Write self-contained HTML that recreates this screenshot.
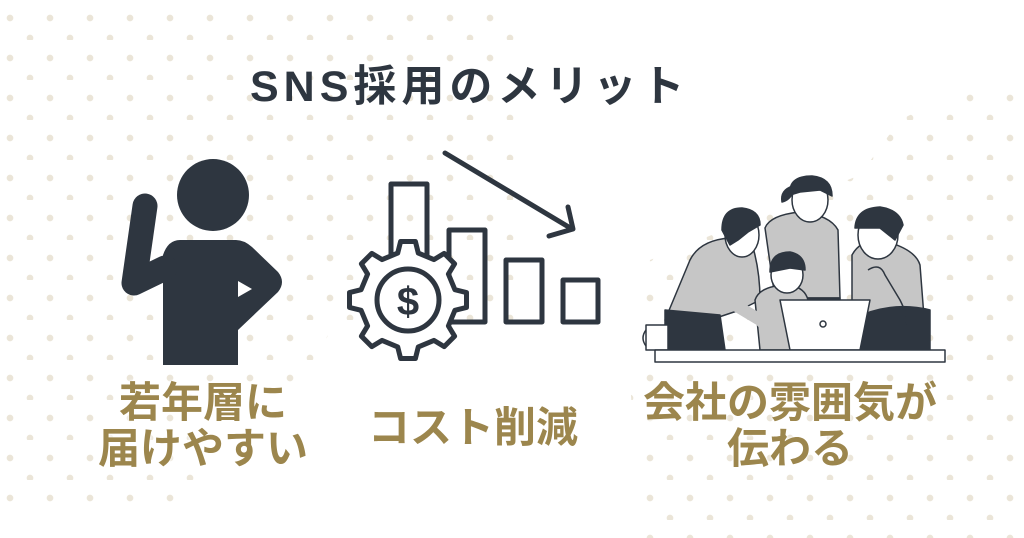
<!DOCTYPE html>
<html><head><meta charset="utf-8"><style>
html,body{margin:0;padding:0;background:#fff;}
#c{position:relative;width:1024px;height:538px;overflow:hidden;background:#fff;}
.dots{position:absolute;left:0;top:0;width:1024px;height:538px;
background-image:radial-gradient(circle at 10px 18px,#ebe5d8 3px,transparent 3.6px),radial-gradient(circle at 30px 38px,#ebe5d8 3px,transparent 3.6px);
background-size:40px 40px;}
.t{position:absolute;font-family:"Liberation Sans","Noto Sans CJK JP",sans-serif;font-weight:bold;white-space:nowrap;}
.g{color:#9c864d;font-size:42px;text-align:center;text-shadow:0 0 3px #fff,0 0 3px #fff;}
</style></head><body><div id="c">
<div class="dots" style="clip-path:polygon(0 0,520px 0,520px 320px,330px 330px,310px 380px,210px 400px,200px 510px,0 510px)"></div>
<div class="dots" style="clip-path:polygon(960px 90px,1024px 80px,1024px 538px,640px 538px,630px 380px,650px 260px,860px 175px,900px 120px)"></div>
<div class="t" style="left:250px;top:52px;font-size:43px;color:#2e3640;letter-spacing:5px;">SNS採用のメリット</div>
<svg width="1024" height="538" style="position:absolute;left:0;top:0">
<g fill="#2e3640">
<circle cx="213" cy="195" r="36"/>
<path d="M163 255 Q168 240 180 240 L236 240 Q244 240 252 247 L278 272 Q286 282 278 292 L238 330 L238 365 L163 365 Z"/>
<polygon points="238,281 252,289 238,297" fill="#fff"/>
</g>
<polyline points="145,206 134,283 165,268" fill="none" stroke="#2e3640" stroke-width="25" stroke-linecap="round" stroke-linejoin="round"/>
<g fill="none" stroke="#2e3640" stroke-width="5" stroke-linejoin="round" stroke-linecap="round">
<rect x="391" y="184" width="36" height="140"/>
<rect x="449" y="230" width="36" height="92"/>
<rect x="506" y="260" width="36" height="62"/>
<rect x="563" y="280" width="35" height="42"/>
<line x1="445" y1="153" x2="572" y2="229"/>
<polyline points="568,207 573,229 549,236"/>
<path id="gear" fill="#fff" d=""/>
<circle cx="408" cy="300" r="31" fill="#fff"/>
</g>
<text x="408" y="315" text-anchor="middle" font-family="Liberation Sans,sans-serif" font-weight="bold" font-size="40" fill="#2e3640">$</text>
<g stroke="#2e3640" stroke-width="1.5" stroke-linejoin="round">
<path d="M765 228 Q770 215 800 212 Q830 215 838 230 L840 298 L775 298 Z" fill="#c6c6c6"/>
<path d="M778 298 L840 298 L842 330 L778 330 Z" fill="#2e3640"/>
<ellipse cx="810" cy="200" rx="18" ry="22" fill="#fff"/>
<path d="M790 195 Q788 176 812 176 Q832 178 832 196 L820 190 L800 192 Z" fill="#2e3640"/>
<path d="M793 186 Q780 190 782 202 Q790 200 793 192Z" fill="#2e3640"/>
<path d="M852 255 Q860 240 880 240 Q915 248 920 265 L925 330 L875 340 L852 330 Z" fill="#c6c6c6"/>
<path d="M850 320 Q890 300 930 310 L930 350 L850 350Z" fill="#2e3640"/>
<ellipse cx="878" cy="235" rx="20" ry="24" fill="#fff"/>
<path d="M855 228 Q856 208 880 207 Q900 210 903 225 L895 240 L880 228 Z" fill="#2e3640"/>
<path d="M690 260 Q700 240 730 238 L752 244 Q760 270 760 300 L740 310 L680 330 L665 320 Z" fill="#c6c6c6"/>
<path d="M665 310 L720 315 L725 350 L665 350 Z" fill="#2e3640"/>
<ellipse cx="742" cy="235" rx="17" ry="22" fill="#fff"/>
<path d="M722 230 Q722 208 742 208 Q760 210 760 225 L748 232 L738 240 L730 245 Z" fill="#2e3640"/>
<path d="M755 300 Q760 285 790 285 Q805 288 808 300 L805 350 L760 350 Z" fill="#c6c6c6"/>
<ellipse cx="787" cy="275" rx="16" ry="18" fill="#fff"/>
<path d="M770 272 Q770 252 790 252 Q805 255 805 270 L790 268 Z" fill="#2e3640"/>
<path d="M710 290 L760 320 L780 340" fill="none" stroke-width="12" stroke="#c6c6c6"/>
<path d="M780 300 L870 300 L860 350 L790 350 Z" fill="#fff"/>
<circle cx="823" cy="324" r="3" fill="#fff"/>
<path d="M868 270 Q880 262 885 275 L900 300 Q910 320 905 325" fill="none"/>
<path d="M646 325 L668 325 L668 350 L646 350 Z" fill="#fff"/>
<path d="M646 330 Q640 338 646 346" fill="none"/>
<rect x="655" y="350" width="290" height="12" fill="#fff"/>
</g>
</svg>
<div class="t g" style="left:80px;top:380px;width:246px;line-height:46px;">若年層に<br>届けやすい</div>
<div class="t g" style="left:360px;top:405px;width:226px;line-height:46px;">コスト削減</div>
<div class="t g" style="left:630px;top:380px;width:320px;line-height:46px;">会社の雰囲気が<br>伝わる</div>
</div>
<script>
(function(){var cx=408,cy=300,n=8,ro=59,ri=48,d="";
for(var i=0;i<n;i++){var a=i*2*Math.PI/n,w=Math.PI/n;
var pts=[[ri,a-w*0.55],[ro,a-w*0.32],[ro,a+w*0.32],[ri,a+w*0.55],[ri,a+w*1.45]];
pts.forEach(function(p,j){var x=cx+p[0]*Math.cos(p[1]),y=cy+p[0]*Math.sin(p[1]);d+=(i==0&&j==0?"M":"L")+x.toFixed(1)+" "+y.toFixed(1)+" ";});}
document.getElementById("gear").setAttribute("d",d+"Z");})();
</script>
</body></html>
